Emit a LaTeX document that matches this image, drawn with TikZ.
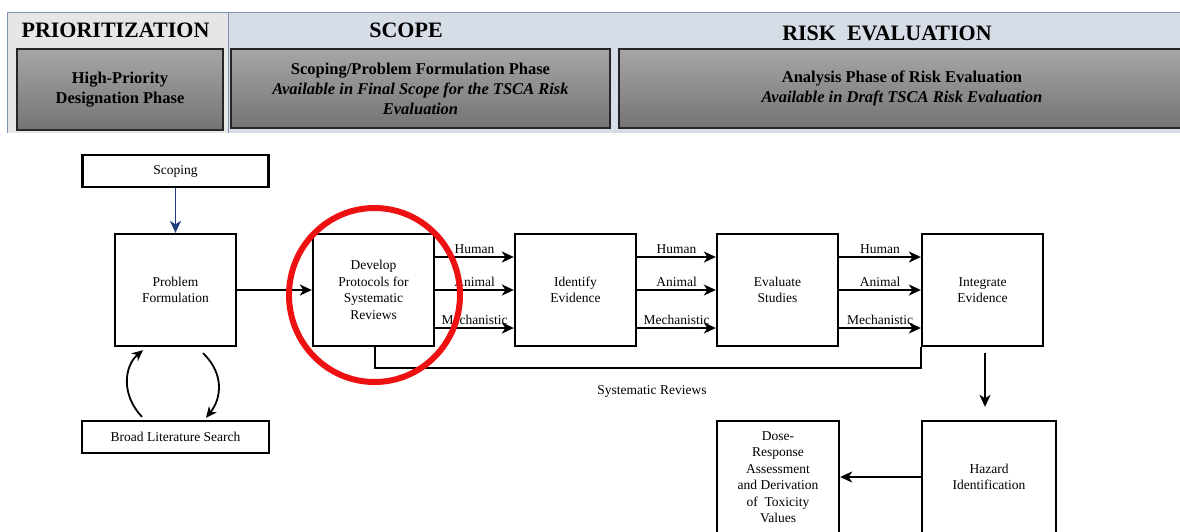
\documentclass[tikz,border=0pt]{standalone}
\usepackage{fontspec}
\setmainfont{Liberation Serif}
\usetikzlibrary{arrows.meta,calc}
\definecolor{prifill}{HTML}{E6E6E6}
\definecolor{scopefill}{HTML}{D6DDE7}
\definecolor{bandline}{HTML}{7F95B8}
\definecolor{boxtop}{HTML}{A6A6A6}
\definecolor{boxbot}{HTML}{747474}
\definecolor{navyarrow}{HTML}{1F3A7A}
\definecolor{hlred}{HTML}{EE1111}
\begin{document}
\begin{tikzpicture}[x=1pt,y=-1pt,
 hdrbox/.style={draw=black!85, line width=1.4pt, top color=boxtop, bottom color=boxbot, inner sep=0pt, align=center, font=\fontsize{16.5}{20}\selectfont\bfseries},
 heading/.style={font=\fontsize{22}{24}\selectfont\bfseries},
 flowbox/.style={draw, line width=2.3pt, fill=white, inner sep=2pt, align=center, font=\fontsize{13.5}{16.5}\selectfont},
 arr/.style={line width=2pt, -{Stealth[length=12pt,width=11pt,inset=3.5pt]}},
 lbl/.style={font=\fontsize{13.5}{16}\selectfont, above, inner sep=2.5pt}
]
\clip (0,0) rectangle (1180,531);
\fill[white] (0,0) rectangle (1180,531);
% header band
\fill[scopefill] (228,12) rectangle (1185,133);
\fill[prifill] (7,12) rectangle (228,133);
\draw[bandline, line width=1pt] (7,133) -- (7,12) -- (1185,12);
\draw[bandline, line width=1pt] (228,12) -- (228,133);
\node[heading] (tprio) at (115.5,30) {PRIORITIZATION};
\node[heading] (tscope) at (406,30) {SCOPE};
\node[heading] (trisk) at (887,33) {RISK\ \ EVALUATION};
\node[hdrbox, minimum width=206pt, minimum height=81pt] (hp) at (120,89.5) {High-Priority\\Designation Phase};
\node[hdrbox, minimum width=379pt, minimum height=79pt] (sp) at (420.5,88.5) {Scoping/Problem Formulation Phase\\\textit{Available in Final Scope for the TSCA Risk}\\\textit{Evaluation}};
\node[hdrbox, minimum width=566pt, minimum height=79pt] (ap) at (902,88.5) {Analysis Phase of Risk Evaluation\\\textit{Available in Draft TSCA Risk Evaluation}};
% flow boxes
\node[flowbox, minimum width=186pt, minimum height=32pt] (scoping) at (175.5,171) {Scoping};
\node[flowbox, minimum width=121pt, minimum height=112pt] (prob) at (175.5,290) {Problem\\Formulation};
\node[flowbox, minimum width=187pt, minimum height=32pt] (broad) at (175.5,437) {Broad Literature Search};
\node[flowbox, minimum width=121pt, minimum height=112pt] (dev) at (373.5,290) {Develop\\Protocols for\\Systematic\\Reviews};
\node[flowbox, minimum width=121pt, minimum height=112pt] (ident) at (575.5,290) {Identify\\Evidence};
\node[flowbox, minimum width=121pt, minimum height=112pt] (evalst) at (777.5,290) {Evaluate\\Studies};
\node[flowbox, minimum width=121pt, minimum height=112pt] (integ) at (982.5,290) {Integrate\\Evidence};
\node[flowbox, minimum width=134pt, minimum height=112pt] (hazard) at (989,477) {Hazard\\Identification};
\node[flowbox, minimum width=122pt, minimum height=112pt] (dose) at (778,477) {Dose-\\Response\\Assessment\\and Derivation\\of\ \ Toxicity\\Values};
% connectors
\draw[arr, navyarrow, line width=1.8pt] (scoping) -- (prob);
\draw[arr] (prob) -- (dev);
\foreach \a/\b in {dev/ident, ident/evalst, evalst/integ}{
  \draw[arr] ([yshift=33pt]\a.east) -- node[lbl] {Human} ([yshift=33pt]\b.west);
  \draw[arr] (\a.east) -- node[lbl] {Animal} (\b.west);
  \draw[arr] ([yshift=-38pt]\a.east) -- node[lbl] {Mechanistic} ([yshift=-38pt]\b.west);
}
\draw[line width=2pt] ([xshift=1.5pt]dev.south) -- ++(0,21) -| (integ.south west);
\node[font=\fontsize{13.5}{16}\selectfont] (sysrev) at (652,391) {Systematic Reviews};
\draw[arr, shorten <=6pt, shorten >=13pt] ([xshift=2.5pt]integ.south) -- ([xshift=2.5pt]integ.south |- hazard.north);
\draw[arr] (hazard.west) -- (dose.east);
% loop between problem formulation and literature search
\coordinate (lstart) at ($(broad.north)+(-33.5,-3)$);
\coordinate (lend) at ($(prob.south)+(-32.5,3)$);
\coordinate (rstart) at ($(prob.south)+(27.5,6)$);
\coordinate (rend) at ($(broad.north)+(30.5,-2)$);
\draw[line width=1.8pt, -{Stealth[length=11pt,width=10pt,inset=3.5pt]}] (lstart) .. controls ($(lstart)+(-21,-22)$) and ($(lend)+(-19,16)$) .. (lend);
\draw[line width=1.8pt, -{Stealth[length=11pt,width=10pt,inset=3.5pt]}] (rstart) .. controls ($(rstart)+(21,20)$) and ($(rend)+(16,-20)$) .. (rend);
% highlight
\draw[hlred, line width=6pt] (374.5,295) ellipse [x radius=85.5, y radius=87];
\end{tikzpicture}
\end{document}
